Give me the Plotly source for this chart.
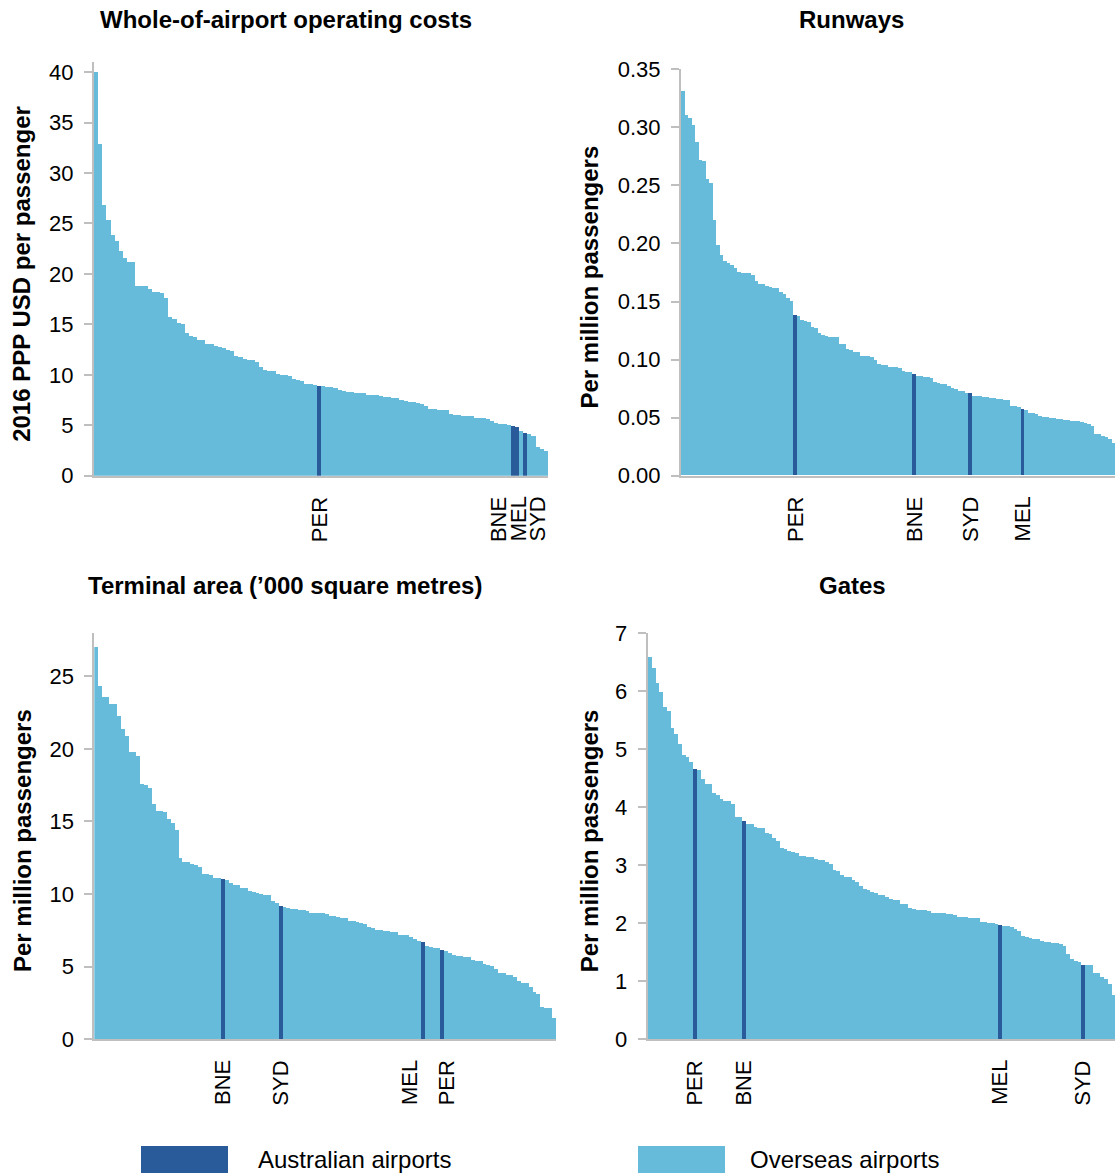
import plotly.graph_objects as go

W, H = 1115, 1173

# ---------------- data ----------------
cost_values = [
    40.0, 32.9, 26.8, 25.3, 23.9, 23.3, 22.3, 21.6, 21.2, 21.2,
    18.8, 18.8, 18.8, 18.5, 18.2, 18.2, 18.1, 17.6, 15.7, 15.5,
    15.1, 15.0, 14.1, 13.8, 13.7, 13.4, 13.4, 13.05, 13.05, 12.85,
    12.75, 12.65, 12.45, 12.35, 11.85, 11.75, 11.55, 11.45, 11.45, 11.25,
    10.75, 10.5, 10.4, 10.4, 10.1, 10.0, 10.0, 9.9, 9.6, 9.5,
    9.4, 9.1, 9.1, 9.0, 8.9, 8.9, 8.8, 8.8, 8.7, 8.5,
    8.4, 8.3, 8.3, 8.2, 8.2, 8.2, 8.0, 8.0, 8.0, 7.9,
    7.8, 7.8, 7.7, 7.7, 7.5, 7.4, 7.3, 7.3, 7.2, 7.1,
    6.9, 6.6, 6.6, 6.5, 6.5, 6.5, 6.1, 6.0, 6.0, 5.9,
    5.9, 5.9, 5.7, 5.7, 5.7, 5.6, 5.4, 5.2, 5.1, 5.1,
    5.0, 4.9, 4.8, 4.4, 4.2, 4.1, 3.9, 2.8, 2.6, 2.4,
]
cost_aus = {"PER": 54, "BNE": 101, "MEL": 102, "SYD": 104}

runway_values = [
    0.331, 0.310, 0.308, 0.302, 0.287, 0.272, 0.271, 0.255, 0.252, 0.220,
    0.198, 0.190, 0.185, 0.183, 0.181, 0.179, 0.1755, 0.1746, 0.1746, 0.1746,
    0.173, 0.167, 0.165, 0.165, 0.163, 0.162, 0.161, 0.161, 0.158, 0.156,
    0.153, 0.150, 0.138, 0.1376, 0.134, 0.133, 0.132, 0.128, 0.127, 0.123,
    0.121, 0.120, 0.1195, 0.1195, 0.1195, 0.113, 0.113, 0.109, 0.108, 0.1065,
    0.1065, 0.103, 0.103, 0.103, 0.102, 0.0997, 0.0962, 0.0955, 0.0955, 0.0936,
    0.0936, 0.0936, 0.0928, 0.0902, 0.0893, 0.0893, 0.0876, 0.0859, 0.0859, 0.085,
    0.085, 0.0841, 0.0807, 0.0798, 0.079, 0.079, 0.0773, 0.0755, 0.0747, 0.073,
    0.073, 0.0712, 0.0712, 0.0686, 0.0686, 0.0686, 0.0678, 0.0678, 0.0669, 0.0669,
    0.0661, 0.0661, 0.0652, 0.0652, 0.060, 0.060, 0.0592, 0.0575, 0.0566, 0.054,
    0.054, 0.0531, 0.0514, 0.0506, 0.0506, 0.0497, 0.0497, 0.0488, 0.0488, 0.048,
    0.048, 0.0471, 0.0471, 0.0471, 0.0462, 0.0454, 0.0445, 0.0428, 0.0359, 0.0359,
    0.0342, 0.0333, 0.0316, 0.0282,
]
runway_aus = {"PER": 32, "BNE": 66, "SYD": 82, "MEL": 97}

terminal_values = [
    27.05, 24.36, 23.60, 23.60, 23.12, 23.12, 22.29, 21.39, 20.91, 19.81,
    19.81, 19.53, 17.60, 17.53, 17.33, 16.22, 15.74, 15.74, 15.67, 15.19,
    14.91, 14.43, 12.50, 12.22, 12.22, 12.09, 12.02, 11.88, 11.40, 11.40,
    11.33, 11.12, 11.12, 11.05, 10.98, 10.78, 10.64, 10.64, 10.43, 10.43,
    10.23, 10.16, 10.09, 10.02, 9.95, 9.95, 9.54, 9.40, 9.19, 9.12,
    9.05, 8.98, 8.98, 8.92, 8.92, 8.85, 8.71, 8.71, 8.71, 8.71,
    8.64, 8.50, 8.50, 8.43, 8.36, 8.36, 8.16, 8.16, 8.09, 8.02,
    7.95, 7.74, 7.68, 7.54, 7.54, 7.47, 7.47, 7.40, 7.40, 7.19,
    7.19, 7.19, 7.05, 6.92, 6.78, 6.71, 6.43, 6.36, 6.30, 6.30,
    6.16, 6.09, 5.95, 5.81, 5.74, 5.74, 5.68, 5.68, 5.47, 5.40,
    5.40, 5.19, 5.12, 5.05, 4.85, 4.57, 4.57, 4.43, 4.43, 4.29,
    4.02, 3.88, 3.88, 3.61, 3.26, 3.12, 2.23, 2.16, 2.16, 1.47,
]
terminal_aus = {"BNE": 33, "SYD": 48, "MEL": 85, "PER": 90}

gate_values = [
    6.59, 6.39, 6.13, 5.99, 5.73, 5.66, 5.37, 5.26, 5.09, 4.89,
    4.87, 4.78, 4.66, 4.63, 4.49, 4.40, 4.39, 4.25, 4.20, 4.14,
    4.11, 4.11, 4.06, 3.83, 3.83, 3.76, 3.70, 3.70, 3.66, 3.64,
    3.64, 3.56, 3.54, 3.47, 3.42, 3.30, 3.28, 3.25, 3.23, 3.21,
    3.16, 3.16, 3.14, 3.14, 3.11, 3.09, 3.09, 3.06, 3.02, 2.92,
    2.90, 2.83, 2.80, 2.80, 2.75, 2.71, 2.63, 2.59, 2.57, 2.54,
    2.51, 2.49, 2.49, 2.45, 2.42, 2.40, 2.39, 2.33, 2.32, 2.26,
    2.25, 2.23, 2.23, 2.23, 2.20, 2.18, 2.18, 2.18, 2.18, 2.16,
    2.16, 2.14, 2.11, 2.11, 2.11, 2.09, 2.09, 2.09, 2.02, 2.02,
    2.00, 2.00, 1.99, 1.97, 1.95, 1.95, 1.93, 1.90, 1.87, 1.78,
    1.76, 1.74, 1.73, 1.73, 1.69, 1.68, 1.68, 1.66, 1.66, 1.64,
    1.61, 1.47, 1.38, 1.35, 1.33, 1.28, 1.28, 1.28, 1.14, 1.13,
    1.07, 1.04, 0.94, 0.76,
]
gate_aus = {"PER": 12, "BNE": 25, "MEL": 93, "SYD": 115}

panel_titles = [
    "Whole-of-airport operating costs",
    "Runways",
    "Terminal area (\u2019000 square metres)",
    "Gates",
]
y_titles = [
    "2016 PPP USD per passenger",
    "Per million passengers",
    "Per million passengers",
    "Per million passengers",
]
cost_ticks = [0, 5, 10, 15, 20, 25, 30, 35, 40]
runway_ticks = [0.0, 0.05, 0.10, 0.15, 0.20, 0.25, 0.30, 0.35]
terminal_ticks = [0, 5, 10, 15, 20, 25]
gate_ticks = [0, 1, 2, 3, 4, 5, 6, 7]
legend_labels = ["Australian airports", "Overseas airports"]

# ---------------- style ----------------
DARK = "#295B9B"
LIGHT = "#66BBDA"
GREY = "#BFBFBF"
FONT = "Liberation Sans, Arial, sans-serif"

def px_x(p):
    return p / W

def px_y(p):
    return 1 - p / H

panels = [
    dict(values=cost_values, aus=cost_aus, ticks=cost_ticks, fmt="d",
         yrange=[0, 41], xpx=(94, 548), ypx=(62, 475.7),
         title_x=286, title_y=20, ytitle_x=22,
         shifts={"BNE": -15, "MEL": 1, "SYD": 12}),
    dict(values=runway_values, aus=runway_aus, ticks=runway_ticks, fmt=".2f",
         yrange=[0, 0.35], xpx=(681, 1115), ypx=(69.3, 475.7),
         title_x=851, title_y=20, ytitle_x=589, shifts={}),
    dict(values=terminal_values, aus=terminal_aus, ticks=terminal_ticks, fmt="d",
         yrange=[0, 28], xpx=(94.3, 556), ypx=(632.7, 1039.3),
         title_x=285, title_y=585, ytitle_x=22,
         shifts={"MEL": -13, "PER": 4}),
    dict(values=gate_values, aus=gate_aus, ticks=gate_ticks, fmt="d",
         yrange=[0, 7], xpx=(647.7, 1115), ypx=(633.3, 1039.3),
         title_x=852, title_y=585, ytitle_x=589, shifts={}),
]

fig = go.Figure()
annotations = []
shapes = []

for i, p in enumerate(panels, start=1):
    sfx = "" if i == 1 else str(i)
    vals = p["values"]
    aus_idx = set(p["aus"].values())
    xs = list(range(len(vals)))
    colors = [DARK if k in aus_idx else LIGHT for k in xs]
    fig.add_trace(go.Bar(
        x=xs, y=vals, marker=dict(color=colors, line=dict(width=0)),
        xaxis="x" + sfx, yaxis="y" + sfx, showlegend=False,
        hoverinfo="y",
    ))
    fig.layout["xaxis" + sfx] = dict(
        domain=[px_x(p["xpx"][0]), px_x(p["xpx"][1])],
        anchor="y" + sfx, range=[-0.5, len(vals) - 0.5],
        showline=True, linecolor=GREY, linewidth=2,
        showticklabels=False, ticks="", showgrid=False, zeroline=False,
        fixedrange=True, automargin=False,
    )
    fig.layout["yaxis" + sfx] = dict(
        domain=[px_y(p["ypx"][1]), px_y(p["ypx"][0])],
        anchor="x" + sfx, range=p["yrange"],
        tickvals=p["ticks"], tickformat=p["fmt"],
        showline=True, linecolor=GREY, linewidth=2,
        ticks="outside", ticklen=8, tickwidth=2, tickcolor=GREY,
        ticklabelstandoff=6,
        tickfont=dict(family=FONT, size=22, color="#000000"),
        showgrid=False, zeroline=False, fixedrange=True, automargin=False,
    )
    # Australian airport labels
    for name, idx in p["aus"].items():
        annotations.append(dict(
            x=idx, y=0, xref="x" + sfx, yref="y" + sfx,
            text=name, textangle=-90, showarrow=False,
            xanchor="center", yanchor="top",
            xshift=p["shifts"].get(name, 0), yshift=-19,
            font=dict(family=FONT, size=22, color="#000000"),
        ))
    # panel title
    annotations.append(dict(
        x=px_x(p["title_x"]), y=px_y(p["title_y"]), xref="paper", yref="paper",
        text="<b>" + panel_titles[i - 1] + "</b>", showarrow=False,
        xanchor="center", yanchor="middle",
        font=dict(family=FONT, size=24, color="#000000"),
    ))
    # y-axis title
    yc = (p["ypx"][0] + p["ypx"][1]) / 2 + 5
    annotations.append(dict(
        x=px_x(p["ytitle_x"]), y=px_y(yc), xref="paper", yref="paper",
        text="<b>" + y_titles[i - 1] + "</b>", textangle=-90, showarrow=False,
        xanchor="center", yanchor="middle",
        font=dict(family=FONT, size=24, color="#000000"),
    ))

# legend (drawn as swatches + text)
legend_items = [
    (legend_labels[0], DARK, 141, 228, 256),
    (legend_labels[1], LIGHT, 638, 725, 748),
]
for label, col, x0, x1, tx in legend_items:
    shapes.append(dict(
        type="rect", xref="paper", yref="paper",
        x0=px_x(x0), x1=px_x(x1), y0=px_y(1185), y1=px_y(1146),
        fillcolor=col, line=dict(width=0), layer="above",
    ))
    annotations.append(dict(
        x=px_x(tx), y=px_y(1159), xref="paper", yref="paper",
        text=label, showarrow=False, xanchor="left", yanchor="middle",
        font=dict(family=FONT, size=24, color="#000000"),
    ))

fig.update_layout(
    width=W, height=H, autosize=False,
    margin=dict(l=0, r=0, t=0, b=0, pad=0, autoexpand=False),
    paper_bgcolor="white", plot_bgcolor="white",
    bargap=0, barmode="overlay",
    annotations=annotations, shapes=shapes,
    font=dict(family=FONT, color="#000000"),
)

fig.write_html(
    "out.html",
    config={"displayModeBar": False},
    post_script="document.body.style.margin='0';document.body.style.overflow='hidden';",
)
